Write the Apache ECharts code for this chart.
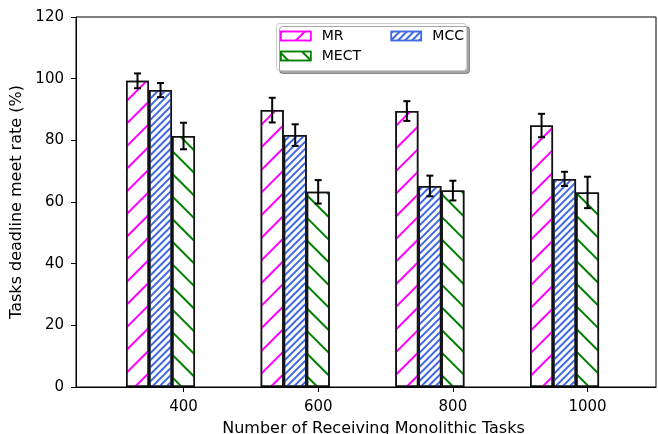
<!DOCTYPE html>
<html>
<head>
<meta charset="utf-8">
<script src="https://cdn.jsdelivr.net/npm/echarts@6/dist/echarts.min.js"></script>
<style>html,body{margin:0;padding:0;background:#fff;}#c{width:658px;height:434px;}</style>
</head>
<body>
<div id="c"></div>
<script>
const categories = ['400', '600', '800', '1000'];
const seriesNames = ['MR', 'MCC', 'MECT'];
const mrVals = [99.3, 89.8, 89.5, 84.8];
const mrErr = [2.4, 4.0, 3.2, 3.8];
const mccVals = [96.3, 81.7, 65.2, 67.5];
const mccErr = [2.3, 3.5, 3.35, 2.3];
const mectVals = [81.4, 63.3, 63.7, 63.1];
const mectErr = [4.3, 3.8, 3.2, 5.1];
const yMin = 0, yMax = 120, yStep = 20;

const FONT = 'DejaVu Sans';
const BAR_W = 0.1708;           // bar width in axis units
const XMIN = -0.6275, XMAX = 3.679;
const GRID = {left: 76, right: 2, top: 17, bottom: 47};
const gridW = 658 - GRID.left - GRID.right;
const barPx = BAR_W * gridW / (XMAX - XMIN);
const tickPos = categories.map((c, i) => i + BAR_W);

const colors = ['#ff00ff', '#4169e1', '#008000'];
const decals = [
  {symbol: 'rect', symbolSize: 1, color: colors[0], dashArrayX: [1, 0], dashArrayY: [2, 14], rotation: -Math.PI / 4},
  {symbol: 'rect', symbolSize: 1, color: colors[1], dashArrayX: [1, 0], dashArrayY: [2, 3], rotation: -Math.PI / 4},
  {symbol: 'rect', symbolSize: 1, color: colors[2], dashArrayX: [1, 0], dashArrayY: [2, 14], rotation: Math.PI / 4}
];
const vals = [mrVals, mccVals, mectVals];
const errs = [mrErr, mccErr, mectErr];

const barSeries = seriesNames.map((n, k) => ({
  name: n, type: 'bar', barWidth: barPx, barGap: '0%', z: 2,
  itemStyle: {color: '#ffffff', borderColor: '#111', borderWidth: 1.5, decal: decals[k]},
  emphasis: {disabled: true},
  data: vals[k].map((v, i) => [i, v])
}));

function errRender(k) {
  return function (params, api) {
    const x = api.value(0), m = api.value(1), e = api.value(2);
    const bw = api.size([BAR_W, 0])[0];
    const off = (k - 1) * bw;
    const pT = api.coord([x, m + e]);
    const pB = api.coord([x, m - e]);
    const cx = pT[0] + off;
    const cap = 3.5;
    const st = {stroke: '#000', lineWidth: 2};
    return {type: 'group', children: [
      {type: 'line', shape: {x1: cx, y1: pT[1], x2: cx, y2: pB[1]}, style: st},
      {type: 'line', shape: {x1: cx - cap, y1: pT[1], x2: cx + cap, y2: pT[1]}, style: st},
      {type: 'line', shape: {x1: cx - cap, y1: pB[1], x2: cx + cap, y2: pB[1]}, style: st}
    ]};
  };
}
const errSeries = seriesNames.map((n, k) => ({
  type: 'custom', z: 5, silent: true,
  renderItem: errRender(k),
  data: vals[k].map((v, i) => [i, v, errs[k][i]])
}));

const legendText = {fontFamily: FONT, fontSize: 14, color: '#000', padding: [0, 0, 0, 6]};
function legendItem(k) {
  return {name: seriesNames[k], itemStyle: {color: '#fff', borderColor: colors[k], borderWidth: 1.5}};
}

const chart = echarts.init(document.getElementById('c'), null, {renderer: 'canvas'});
chart.setOption({
  animation: false,
  backgroundColor: '#fff',
  grid: Object.assign({show: true, containLabel: false, outerBoundsMode: 'none', borderColor: '#000', borderWidth: 1, backgroundColor: 'transparent'}, GRID),
  graphic: [{
    type: 'rect', z: 3, left: 276, top: 23,
    shape: {width: 190, height: 47, r: 3},
    style: {fill: '#fff', stroke: '#cccccc', lineWidth: 1, shadowColor: 'rgba(0,0,0,0.35)', shadowOffsetX: 3, shadowOffsetY: 3, shadowBlur: 0}
  }],
  legend: [
    {data: [legendItem(0), legendItem(1)], left: 280, top: 29, itemWidth: 30, itemHeight: 9, itemGap: 47, padding: 0, icon: 'rect', z: 6, textStyle: legendText, selectedMode: false},
    {data: [legendItem(2)], left: 280, top: 49, itemWidth: 30, itemHeight: 9, padding: 0, icon: 'rect', z: 6, textStyle: legendText, selectedMode: false}
  ],
  xAxis: {
    type: 'value', min: XMIN, max: XMAX,
    name: 'Number of Receiving Monolithic Tasks', nameLocation: 'middle', nameGap: 34,
    nameTextStyle: {fontFamily: FONT, fontSize: 16, color: '#000', padding: [0, 0, 0, 15]},
    splitLine: {show: false},
    axisLine: {onZero: false, lineStyle: {color: '#000', width: 1}},
    axisTick: {show: true, length: 5, customValues: tickPos, lineStyle: {color: '#000'}},
    axisLabel: {customValues: tickPos, margin: 13, fontFamily: FONT, fontSize: 15, color: '#000',
      formatter: v => categories[Math.round(v - BAR_W)]}
  },
  yAxis: {
    type: 'value', min: yMin, max: yMax, interval: yStep,
    name: 'Tasks deadline meet rate (%)', nameLocation: 'middle', nameGap: 43,
    nameTextStyle: {fontFamily: FONT, fontSize: 16, color: '#000'},
    splitLine: {show: false},
    axisLine: {show: true, onZero: false, lineStyle: {color: '#000', width: 1}},
    axisTick: {show: true, length: 5, lineStyle: {color: '#000'}},
    axisLabel: {margin: 12, fontFamily: FONT, fontSize: 15, color: '#000'}
  },
  series: barSeries.concat(errSeries)
});
</script>
</body>
</html>
